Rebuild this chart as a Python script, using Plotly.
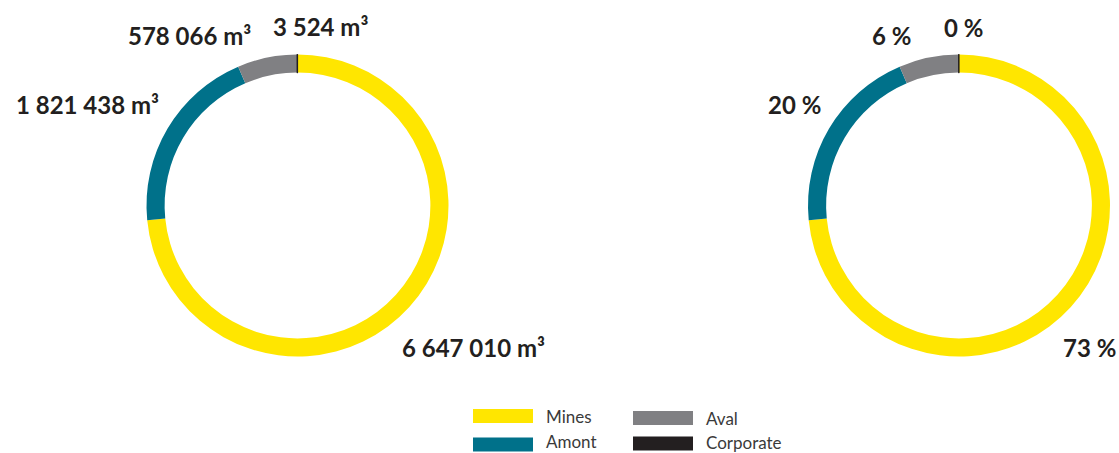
import plotly.graph_objects as go

segments = ["Mines", "Amont", "Aval", "Corporate"]
volumes = [6647010, 1821438, 578066, 3524]
percents = [73, 20, 6, 0]
colors = ["#FFE600", "#00718A", "#808083", "#231F20"]

W, H = 1119, 453


def fmt_volume(v):
    return f"{v:,}".replace(",", " ") + " m³"


def px_x(x):
    return x / W


def px_y(y):
    return 1 - y / H


def pie_domain(cx, cy, r):
    return dict(x=[px_x(cx - r), px_x(cx + r)], y=[px_y(cy + r), px_y(cy - r)])


fig = go.Figure()

for cx in [297.5, 959]:
    fig.add_trace(go.Pie(
        labels=segments,
        values=volumes,
        sort=False,
        direction="clockwise",
        rotation=0,
        hole=0.88,
        textinfo="none",
        hoverinfo="label+value",
        showlegend=False,
        marker=dict(colors=colors,
                    line=dict(color=["#FFFFFF", "#FFFFFF", "#FFFFFF", "#231F20"],
                              width=[0, 0, 0, 1.2])),
        domain=pie_domain(cx, 205.5, 151),
    ))

label_font = dict(family="Lato, Noto Sans, sans-serif", size=24, color="#231F20")

# value labels (left ring) and share labels (right ring)
left_pos = [(473, 347), (87, 104), (189, 36), (320, 27)]
right_pos = [(1089, 347), (794, 104), (891, 36), (964, 28)]
for i, seg in enumerate(segments):
    x, y = left_pos[i]
    fig.add_annotation(x=px_x(x), y=px_y(y), xref="paper", yref="paper",
                       text="<b>" + fmt_volume(volumes[i]) + "</b>", showarrow=False,
                       font=label_font, xanchor="center", yanchor="middle")
    x, y = right_pos[i]
    fig.add_annotation(x=px_x(x), y=px_y(y), xref="paper", yref="paper",
                       text=f"<b>{percents[i]} %</b>", showarrow=False,
                       font=label_font, xanchor="center", yanchor="middle")

# legend: two columns of wide swatches
legend_pos = [(473, 416), (473, 444.5), (633, 418), (633, 443.5)]
text_dy = [0, -3, 0, -1]
for i, seg in enumerate(segments):
    x, y = legend_pos[i]
    fig.add_shape(type="rect", xref="paper", yref="paper",
                  x0=px_x(x), x1=px_x(x + 60), y0=px_y(y + 7), y1=px_y(y - 7),
                  fillcolor=colors[i], line=dict(width=0))
    fig.add_annotation(x=px_x(x + 71), y=px_y(y + text_dy[i]), xref="paper", yref="paper",
                       text=seg, showarrow=False, xanchor="left", yanchor="middle",
                       font=dict(family="Lato, Noto Sans, sans-serif", size=17, color="#3A3A3A"))

fig.update_layout(
    width=W,
    height=H,
    margin=dict(l=0, r=0, t=0, b=0),
    paper_bgcolor="white",
    plot_bgcolor="white",
)

fig.write_html("out.html", config={"displayModeBar": False},
               post_script="document.body.style.margin='0';")
